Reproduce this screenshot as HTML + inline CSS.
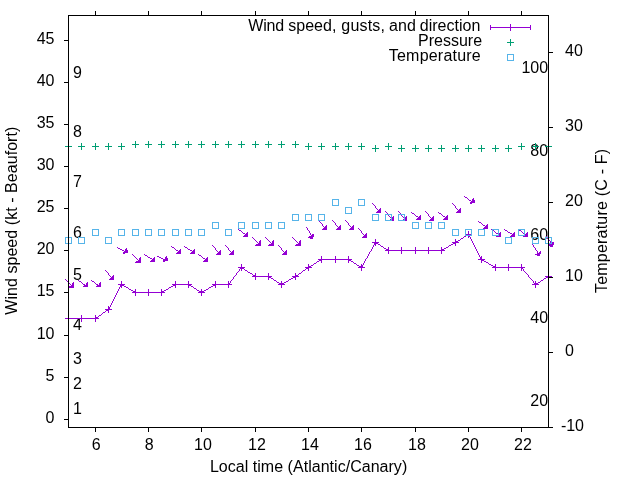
<!DOCTYPE html><html><head><meta charset="utf-8"><title>Wind plot</title><style>html,body{margin:0;padding:0;background:#fff}svg{display:block}text{font-family:"Liberation Sans",sans-serif;font-size:16px;fill:#000}path{shape-rendering:crispEdges}</style></head><body>
<svg width="640" height="480" viewBox="0 0 640 480">
<rect width="640" height="480" fill="#fff"/>
<path d="M95 11h1v1h-1zM148 11h1v1h-1zM201 11h1v1h-1zM255 11h1v1h-1zM308 11h1v1h-1zM361 11h1v1h-1zM415 11h1v1h-1zM468 11h1v1h-1zM521 11h1v1h-1zM95 12h1v1h-1zM148 12h1v1h-1zM201 12h1v1h-1zM255 12h1v1h-1zM308 12h1v1h-1zM361 12h1v1h-1zM415 12h1v1h-1zM468 12h1v1h-1zM521 12h1v1h-1zM95 13h1v1h-1zM148 13h1v1h-1zM201 13h1v1h-1zM255 13h1v1h-1zM308 13h1v1h-1zM361 13h1v1h-1zM415 13h1v1h-1zM468 13h1v1h-1zM521 13h1v1h-1zM95 14h1v1h-1zM148 14h1v1h-1zM201 14h1v1h-1zM255 14h1v1h-1zM308 14h1v1h-1zM361 14h1v1h-1zM415 14h1v1h-1zM468 14h1v1h-1zM521 14h1v1h-1zM95 15h1v1h-1zM148 15h1v1h-1zM201 15h1v1h-1zM255 15h1v1h-1zM308 15h1v1h-1zM361 15h1v1h-1zM415 15h1v1h-1zM468 15h1v1h-1zM521 15h1v1h-1zM64 40h5v1h-5zM548 52h5v1h-5zM64 82h5v1h-5zM64 124h5v1h-5zM548 127h5v1h-5zM64 166h5v1h-5zM548 202h5v1h-5zM64 208h5v1h-5zM64 250h5v1h-5zM548 277h5v1h-5zM64 292h5v1h-5zM64 335h5v1h-5zM548 352h5v1h-5zM64 377h5v1h-5zM64 419h5v1h-5zM95 427h1v1h-1zM148 427h1v1h-1zM201 427h1v1h-1zM255 427h1v1h-1zM308 427h1v1h-1zM361 427h1v1h-1zM415 427h1v1h-1zM468 427h1v1h-1zM521 427h1v1h-1zM548 427h5v1h-5zM95 428h1v1h-1zM148 428h1v1h-1zM201 428h1v1h-1zM255 428h1v1h-1zM308 428h1v1h-1zM361 428h1v1h-1zM415 428h1v1h-1zM468 428h1v1h-1zM521 428h1v1h-1zM95 429h1v1h-1zM148 429h1v1h-1zM201 429h1v1h-1zM255 429h1v1h-1zM308 429h1v1h-1zM361 429h1v1h-1zM415 429h1v1h-1zM468 429h1v1h-1zM521 429h1v1h-1zM95 430h1v1h-1zM148 430h1v1h-1zM201 430h1v1h-1zM255 430h1v1h-1zM308 430h1v1h-1zM361 430h1v1h-1zM415 430h1v1h-1zM468 430h1v1h-1zM521 430h1v1h-1zM95 431h1v1h-1zM148 431h1v1h-1zM201 431h1v1h-1zM255 431h1v1h-1zM308 431h1v1h-1zM361 431h1v1h-1zM415 431h1v1h-1zM468 431h1v1h-1zM521 431h1v1h-1z" fill="#000000"/>
<text x="54.5" y="423.30" text-anchor="end">0</text>
<text x="54.5" y="381.30" text-anchor="end">5</text>
<text x="54.5" y="339.30" text-anchor="end">10</text>
<text x="54.5" y="296.30" text-anchor="end">15</text>
<text x="54.5" y="254.30" text-anchor="end">20</text>
<text x="54.5" y="212.30" text-anchor="end">25</text>
<text x="54.5" y="170.30" text-anchor="end">30</text>
<text x="54.5" y="128.30" text-anchor="end">35</text>
<text x="54.5" y="86.30" text-anchor="end">40</text>
<text x="54.5" y="44.30" text-anchor="end">45</text>
<text x="560.9" y="431.30">-10</text>
<text x="565" y="356.30">0</text>
<text x="565" y="281.30">10</text>
<text x="565" y="206.30">20</text>
<text x="565" y="131.30">30</text>
<text x="565" y="56.30">40</text>
<text x="96.25" y="450" text-anchor="middle">6</text>
<text x="149.25" y="450" text-anchor="middle">8</text>
<text x="202.90" y="450" text-anchor="middle">10</text>
<text x="256.90" y="450" text-anchor="middle">12</text>
<text x="309.90" y="450" text-anchor="middle">14</text>
<text x="362.90" y="450" text-anchor="middle">16</text>
<text x="416.90" y="450" text-anchor="middle">18</text>
<text x="469.90" y="450" text-anchor="middle">20</text>
<text x="522.90" y="450" text-anchor="middle">22</text>
<text x="73" y="414.00">1</text>
<text x="73" y="389.00">2</text>
<text x="73" y="364.00">3</text>
<text x="73" y="330.00">4</text>
<text x="73" y="280.00">5</text>
<text x="73" y="238.00">6</text>
<text x="73" y="187.00">7</text>
<text x="73" y="137.00">8</text>
<text x="73" y="78.00">9</text>
<text x="548.1" y="406.00" text-anchor="end">20</text>
<text x="548.1" y="323.00" text-anchor="end">40</text>
<text x="548.1" y="240.00" text-anchor="end">60</text>
<text x="548.1" y="156.00" text-anchor="end">80</text>
<text x="548.1" y="73.00" text-anchor="end">100</text>
<text transform="translate(16.9 220.7) rotate(-90)" text-anchor="middle" letter-spacing="0.054">Wind speed (kt - Beaufort)</text>
<text transform="translate(606.5 220.85) rotate(-90)" text-anchor="middle" letter-spacing="0.21">Temperature (C - F)</text>
<text x="308.6" y="471.5" text-anchor="middle" letter-spacing="0.03">Local time (Atlantic/Canary)</text>
<text y="30.5"><tspan x="248.3" letter-spacing="-0.2">Wind </tspan><tspan x="288.3">speed, </tspan><tspan x="341.3" letter-spacing="0.2">gusts, </tspan><tspan x="389.1">and </tspan><tspan x="419.8">direction</tspan></text>
<text x="482.05" y="45.5" text-anchor="end">Pressure</text>
<text x="481.0" y="60.5" text-anchor="end" letter-spacing="0.22">Temperature</text>
<path d="M510 24h1v1h-1zM490 25h1v1h-1zM510 25h1v1h-1zM530 25h1v1h-1zM490 26h1v1h-1zM510 26h1v1h-1zM530 26h1v1h-1zM490 27h41v1h-41zM490 28h1v1h-1zM510 28h1v1h-1zM530 28h1v1h-1zM490 29h1v1h-1zM510 29h1v1h-1zM530 29h1v1h-1zM510 30h1v1h-1zM464 196h1v1h-1zM465 197h2v1h-2zM467 198h1v1h-1zM473 198h1v1h-1zM468 199h1v1h-1zM472 199h2v1h-2zM469 200h2v1h-2zM472 200h3v1h-3zM471 201h4v1h-4zM470 202h5v1h-5zM372 203h1v1h-1zM452 203h1v1h-1zM470 203h2v1h-2zM373 204h1v1h-1zM453 204h1v1h-1zM374 205h1v1h-1zM454 205h1v1h-1zM375 206h1v1h-1zM455 206h1v1h-1zM375 207h1v1h-1zM455 207h1v1h-1zM376 208h1v1h-1zM380 208h1v1h-1zM456 208h1v1h-1zM460 208h1v1h-1zM377 209h1v1h-1zM379 209h2v1h-2zM457 209h1v1h-1zM459 209h2v1h-2zM378 210h3v1h-3zM458 210h3v1h-3zM377 211h4v1h-4zM385 211h1v1h-1zM398 211h1v1h-1zM425 211h1v1h-1zM457 211h4v1h-4zM376 212h5v1h-5zM386 212h1v1h-1zM399 212h1v1h-1zM411 212h1v1h-1zM426 212h1v1h-1zM438 212h1v1h-1zM456 212h5v1h-5zM387 213h1v1h-1zM400 213h1v1h-1zM412 213h2v1h-2zM427 213h1v1h-1zM439 213h2v1h-2zM388 214h1v1h-1zM401 214h1v1h-1zM414 214h1v1h-1zM428 214h1v1h-1zM441 214h1v1h-1zM388 215h1v1h-1zM401 215h1v1h-1zM415 215h1v1h-1zM420 215h1v1h-1zM428 215h1v1h-1zM442 215h1v1h-1zM447 215h1v1h-1zM389 216h1v1h-1zM393 216h1v1h-1zM402 216h1v1h-1zM406 216h1v1h-1zM416 216h2v1h-2zM419 216h2v1h-2zM429 216h1v1h-1zM433 216h1v1h-1zM443 216h2v1h-2zM446 216h2v1h-2zM390 217h1v1h-1zM392 217h2v1h-2zM403 217h1v1h-1zM405 217h2v1h-2zM418 217h3v1h-3zM430 217h1v1h-1zM432 217h2v1h-2zM445 217h3v1h-3zM391 218h3v1h-3zM404 218h3v1h-3zM417 218h4v1h-4zM431 218h3v1h-3zM444 218h4v1h-4zM390 219h4v1h-4zM403 219h4v1h-4zM416 219h5v1h-5zM430 219h4v1h-4zM443 219h5v1h-5zM332 220h1v1h-1zM345 220h1v1h-1zM389 220h5v1h-5zM402 220h5v1h-5zM429 220h5v1h-5zM319 221h1v1h-1zM333 221h1v1h-1zM346 221h1v1h-1zM478 221h1v1h-1zM320 222h1v1h-1zM334 222h1v1h-1zM347 222h1v1h-1zM479 222h2v1h-2zM321 223h1v1h-1zM335 223h1v1h-1zM348 223h1v1h-1zM481 223h1v1h-1zM322 224h1v1h-1zM335 224h1v1h-1zM348 224h1v1h-1zM482 224h1v1h-1zM487 224h1v1h-1zM322 225h1v1h-1zM326 225h1v1h-1zM336 225h1v1h-1zM340 225h1v1h-1zM349 225h1v1h-1zM353 225h1v1h-1zM483 225h2v1h-2zM486 225h2v1h-2zM323 226h1v1h-1zM325 226h2v1h-2zM337 226h1v1h-1zM339 226h2v1h-2zM350 226h1v1h-1zM352 226h2v1h-2zM485 226h3v1h-3zM306 227h1v1h-1zM324 227h3v1h-3zM338 227h3v1h-3zM351 227h3v1h-3zM484 227h4v1h-4zM307 228h1v1h-1zM323 228h4v1h-4zM337 228h4v1h-4zM350 228h4v1h-4zM358 228h1v1h-1zM483 228h5v1h-5zM238 229h1v1h-1zM307 229h1v1h-1zM322 229h5v1h-5zM336 229h5v1h-5zM349 229h5v1h-5zM359 229h1v1h-1zM491 229h1v1h-1zM504 229h1v1h-1zM518 229h1v1h-1zM239 230h2v1h-2zM308 230h1v1h-1zM360 230h1v1h-1zM492 230h2v1h-2zM505 230h2v1h-2zM519 230h2v1h-2zM241 231h1v1h-1zM309 231h1v1h-1zM361 231h1v1h-1zM468 231h1v1h-1zM494 231h1v1h-1zM507 231h1v1h-1zM521 231h1v1h-1zM242 232h1v1h-1zM247 232h1v1h-1zM309 232h1v1h-1zM361 232h1v1h-1zM468 232h1v1h-1zM495 232h1v1h-1zM500 232h1v1h-1zM508 232h2v1h-2zM514 232h1v1h-1zM522 232h1v1h-1zM527 232h1v1h-1zM243 233h2v1h-2zM246 233h2v1h-2zM310 233h1v1h-1zM362 233h1v1h-1zM366 233h1v1h-1zM468 233h1v1h-1zM496 233h2v1h-2zM499 233h2v1h-2zM510 233h2v1h-2zM513 233h2v1h-2zM523 233h2v1h-2zM526 233h2v1h-2zM245 234h3v1h-3zM310 234h1v1h-1zM312 234h2v1h-2zM363 234h1v1h-1zM365 234h2v1h-2zM465 234h7v1h-7zM498 234h3v1h-3zM512 234h3v1h-3zM525 234h3v1h-3zM244 235h4v1h-4zM311 235h3v1h-3zM364 235h3v1h-3zM466 235h4v1h-4zM497 235h4v1h-4zM511 235h4v1h-4zM524 235h4v1h-4zM243 236h5v1h-5zM309 236h5v1h-5zM363 236h4v1h-4zM464 236h2v1h-2zM468 236h2v1h-2zM496 236h5v1h-5zM510 236h5v1h-5zM523 236h5v1h-5zM546 236h1v1h-1zM252 237h1v1h-1zM265 237h1v1h-1zM292 237h1v1h-1zM308 237h5v1h-5zM362 237h5v1h-5zM463 237h1v1h-1zM468 237h1v1h-1zM470 237h1v1h-1zM547 237h1v1h-1zM253 238h1v1h-1zM266 238h1v1h-1zM293 238h1v1h-1zM310 238h3v1h-3zM461 238h2v1h-2zM470 238h1v1h-1zM547 238h1v1h-1zM254 239h1v1h-1zM267 239h1v1h-1zM294 239h1v1h-1zM375 239h1v1h-1zM455 239h1v1h-1zM460 239h1v1h-1zM471 239h1v1h-1zM548 239h1v1h-1zM255 240h1v1h-1zM260 240h1v1h-1zM268 240h1v1h-1zM273 240h1v1h-1zM295 240h1v1h-1zM300 240h1v1h-1zM375 240h1v1h-1zM455 240h1v1h-1zM458 240h2v1h-2zM471 240h1v1h-1zM549 240h1v1h-1zM256 241h1v1h-1zM259 241h2v1h-2zM269 241h1v1h-1zM272 241h2v1h-2zM296 241h1v1h-1zM299 241h2v1h-2zM375 241h1v1h-1zM455 241h3v1h-3zM472 241h1v1h-1zM550 241h1v1h-1zM257 242h1v1h-1zM259 242h2v1h-2zM270 242h1v1h-1zM272 242h2v1h-2zM297 242h1v1h-1zM299 242h2v1h-2zM372 242h7v1h-7zM452 242h7v1h-7zM472 242h1v1h-1zM550 242h1v1h-1zM552 242h2v1h-2zM258 243h3v1h-3zM271 243h3v1h-3zM298 243h3v1h-3zM374 243h4v1h-4zM453 243h3v1h-3zM473 243h1v1h-1zM551 243h3v1h-3zM256 244h5v1h-5zM269 244h5v1h-5zM296 244h5v1h-5zM374 244h2v1h-2zM378 244h2v1h-2zM451 244h2v1h-2zM455 244h1v1h-1zM473 244h1v1h-1zM532 244h1v1h-1zM549 244h5v1h-5zM212 245h1v1h-1zM225 245h1v1h-1zM255 245h6v1h-6zM268 245h6v1h-6zM278 245h1v1h-1zM295 245h6v1h-6zM373 245h1v1h-1zM375 245h1v1h-1zM380 245h1v1h-1zM449 245h2v1h-2zM455 245h1v1h-1zM474 245h1v1h-1zM533 245h1v1h-1zM548 245h5v1h-5zM171 246h1v1h-1zM184 246h1v1h-1zM213 246h1v1h-1zM226 246h1v1h-1zM279 246h1v1h-1zM373 246h1v1h-1zM381 246h2v1h-2zM448 246h1v1h-1zM474 246h1v1h-1zM533 246h1v1h-1zM550 246h3v1h-3zM117 247h1v1h-1zM172 247h2v1h-2zM185 247h2v1h-2zM214 247h1v1h-1zM227 247h1v1h-1zM280 247h1v1h-1zM372 247h1v1h-1zM383 247h1v1h-1zM388 247h1v1h-1zM401 247h1v1h-1zM415 247h1v1h-1zM428 247h1v1h-1zM441 247h1v1h-1zM446 247h2v1h-2zM475 247h1v1h-1zM534 247h1v1h-1zM118 248h2v1h-2zM126 248h1v1h-1zM174 248h1v1h-1zM187 248h1v1h-1zM215 248h1v1h-1zM228 248h1v1h-1zM281 248h1v1h-1zM372 248h1v1h-1zM384 248h2v1h-2zM388 248h1v1h-1zM401 248h1v1h-1zM415 248h1v1h-1zM428 248h1v1h-1zM441 248h1v1h-1zM444 248h2v1h-2zM475 248h1v1h-1zM535 248h1v1h-1zM120 249h2v1h-2zM125 249h2v1h-2zM175 249h1v1h-1zM180 249h1v1h-1zM188 249h2v1h-2zM194 249h1v1h-1zM215 249h1v1h-1zM228 249h1v1h-1zM281 249h1v1h-1zM371 249h1v1h-1zM386 249h3v1h-3zM401 249h1v1h-1zM415 249h1v1h-1zM428 249h1v1h-1zM441 249h3v1h-3zM476 249h1v1h-1zM535 249h1v1h-1zM122 250h2v1h-2zM125 250h3v1h-3zM176 250h2v1h-2zM179 250h2v1h-2zM190 250h2v1h-2zM193 250h2v1h-2zM216 250h1v1h-1zM220 250h1v1h-1zM229 250h1v1h-1zM233 250h1v1h-1zM282 250h1v1h-1zM286 250h1v1h-1zM371 250h1v1h-1zM385 250h60v1h-60zM476 250h1v1h-1zM536 250h1v1h-1zM124 251h4v1h-4zM178 251h3v1h-3zM192 251h3v1h-3zM217 251h1v1h-1zM219 251h2v1h-2zM230 251h1v1h-1zM232 251h2v1h-2zM283 251h1v1h-1zM285 251h2v1h-2zM370 251h1v1h-1zM388 251h1v1h-1zM401 251h1v1h-1zM415 251h1v1h-1zM428 251h1v1h-1zM441 251h1v1h-1zM477 251h1v1h-1zM537 251h1v1h-1zM540 251h1v1h-1zM123 252h5v1h-5zM177 252h4v1h-4zM191 252h4v1h-4zM218 252h3v1h-3zM231 252h3v1h-3zM284 252h3v1h-3zM369 252h1v1h-1zM388 252h1v1h-1zM401 252h1v1h-1zM415 252h1v1h-1zM428 252h1v1h-1zM441 252h1v1h-1zM477 252h1v1h-1zM537 252h1v1h-1zM539 252h2v1h-2zM123 253h2v1h-2zM176 253h5v1h-5zM190 253h5v1h-5zM217 253h4v1h-4zM230 253h4v1h-4zM283 253h4v1h-4zM369 253h1v1h-1zM388 253h1v1h-1zM401 253h1v1h-1zM415 253h1v1h-1zM428 253h1v1h-1zM441 253h1v1h-1zM478 253h1v1h-1zM537 253h4v1h-4zM132 254h1v1h-1zM144 254h1v1h-1zM198 254h1v1h-1zM216 254h5v1h-5zM229 254h5v1h-5zM282 254h5v1h-5zM368 254h1v1h-1zM478 254h1v1h-1zM535 254h5v1h-5zM133 255h1v1h-1zM145 255h2v1h-2zM199 255h2v1h-2zM368 255h1v1h-1zM479 255h1v1h-1zM537 255h3v1h-3zM134 256h1v1h-1zM147 256h1v1h-1zM157 256h2v1h-2zM166 256h1v1h-1zM201 256h1v1h-1zM321 256h1v1h-1zM335 256h1v1h-1zM348 256h1v1h-1zM367 256h1v1h-1zM479 256h1v1h-1zM481 256h1v1h-1zM135 257h1v1h-1zM140 257h1v1h-1zM148 257h2v1h-2zM154 257h1v1h-1zM159 257h2v1h-2zM165 257h2v1h-2zM202 257h1v1h-1zM207 257h1v1h-1zM321 257h1v1h-1zM335 257h1v1h-1zM348 257h1v1h-1zM367 257h1v1h-1zM480 257h2v1h-2zM136 258h1v1h-1zM139 258h2v1h-2zM150 258h2v1h-2zM153 258h2v1h-2zM161 258h2v1h-2zM165 258h3v1h-3zM203 258h2v1h-2zM206 258h2v1h-2zM321 258h1v1h-1zM335 258h1v1h-1zM348 258h1v1h-1zM366 258h1v1h-1zM480 258h2v1h-2zM137 259h1v1h-1zM139 259h2v1h-2zM152 259h3v1h-3zM163 259h5v1h-5zM205 259h3v1h-3zM318 259h34v1h-34zM365 259h1v1h-1zM478 259h7v1h-7zM138 260h3v1h-3zM151 260h4v1h-4zM163 260h5v1h-5zM204 260h4v1h-4zM319 260h3v1h-3zM335 260h1v1h-1zM348 260h3v1h-3zM365 260h1v1h-1zM481 260h3v1h-3zM136 261h5v1h-5zM150 261h5v1h-5zM163 261h2v1h-2zM203 261h5v1h-5zM317 261h2v1h-2zM321 261h1v1h-1zM335 261h1v1h-1zM348 261h1v1h-1zM351 261h2v1h-2zM364 261h1v1h-1zM481 261h1v1h-1zM484 261h2v1h-2zM135 262h6v1h-6zM316 262h1v1h-1zM321 262h1v1h-1zM335 262h1v1h-1zM348 262h1v1h-1zM353 262h1v1h-1zM364 262h1v1h-1zM481 262h1v1h-1zM486 262h2v1h-2zM314 263h2v1h-2zM354 263h2v1h-2zM363 263h1v1h-1zM488 263h1v1h-1zM241 264h1v1h-1zM308 264h1v1h-1zM313 264h1v1h-1zM356 264h1v1h-1zM361 264h1v1h-1zM363 264h1v1h-1zM489 264h2v1h-2zM495 264h1v1h-1zM508 264h1v1h-1zM521 264h1v1h-1zM241 265h1v1h-1zM308 265h1v1h-1zM311 265h2v1h-2zM357 265h2v1h-2zM361 265h2v1h-2zM491 265h2v1h-2zM495 265h1v1h-1zM508 265h1v1h-1zM521 265h1v1h-1zM241 266h1v1h-1zM308 266h3v1h-3zM359 266h4v1h-4zM493 266h3v1h-3zM508 266h1v1h-1zM521 266h1v1h-1zM238 267h7v1h-7zM305 267h7v1h-7zM358 267h7v1h-7zM492 267h33v1h-33zM240 268h4v1h-4zM306 268h3v1h-3zM361 268h1v1h-1zM495 268h1v1h-1zM508 268h1v1h-1zM521 268h2v1h-2zM239 269h1v1h-1zM241 269h1v1h-1zM244 269h1v1h-1zM305 269h1v1h-1zM308 269h1v1h-1zM361 269h1v1h-1zM495 269h1v1h-1zM508 269h1v1h-1zM521 269h1v1h-1zM523 269h1v1h-1zM105 270h1v1h-1zM239 270h1v1h-1zM241 270h1v1h-1zM245 270h2v1h-2zM303 270h2v1h-2zM308 270h1v1h-1zM361 270h1v1h-1zM495 270h1v1h-1zM508 270h1v1h-1zM521 270h1v1h-1zM523 270h1v1h-1zM106 271h1v1h-1zM238 271h1v1h-1zM247 271h1v1h-1zM302 271h1v1h-1zM524 271h1v1h-1zM107 272h1v1h-1zM237 272h1v1h-1zM248 272h2v1h-2zM301 272h1v1h-1zM525 272h1v1h-1zM108 273h1v1h-1zM236 273h1v1h-1zM250 273h2v1h-2zM255 273h1v1h-1zM268 273h1v1h-1zM295 273h1v1h-1zM299 273h2v1h-2zM526 273h1v1h-1zM548 273h1v1h-1zM108 274h1v1h-1zM236 274h1v1h-1zM252 274h1v1h-1zM255 274h1v1h-1zM268 274h1v1h-1zM295 274h1v1h-1zM298 274h1v1h-1zM527 274h1v1h-1zM548 274h1v1h-1zM109 275h1v1h-1zM113 275h1v1h-1zM235 275h1v1h-1zM253 275h3v1h-3zM268 275h1v1h-1zM295 275h3v1h-3zM528 275h1v1h-1zM548 275h1v1h-1zM110 276h1v1h-1zM112 276h2v1h-2zM234 276h1v1h-1zM252 276h20v1h-20zM292 276h7v1h-7zM528 276h1v1h-1zM545 276h7v1h-7zM111 277h3v1h-3zM233 277h1v1h-1zM255 277h1v1h-1zM268 277h3v1h-3zM293 277h3v1h-3zM529 277h1v1h-1zM546 277h3v1h-3zM110 278h4v1h-4zM233 278h1v1h-1zM255 278h1v1h-1zM268 278h1v1h-1zM271 278h2v1h-2zM291 278h2v1h-2zM295 278h1v1h-1zM530 278h1v1h-1zM544 278h2v1h-2zM548 278h1v1h-1zM65 279h1v1h-1zM109 279h5v1h-5zM232 279h1v1h-1zM255 279h1v1h-1zM268 279h1v1h-1zM273 279h1v1h-1zM289 279h2v1h-2zM295 279h1v1h-1zM531 279h1v1h-1zM543 279h1v1h-1zM548 279h1v1h-1zM66 280h1v1h-1zM78 280h1v1h-1zM91 280h1v1h-1zM231 280h1v1h-1zM274 280h2v1h-2zM288 280h1v1h-1zM532 280h1v1h-1zM541 280h2v1h-2zM67 281h1v1h-1zM79 281h2v1h-2zM92 281h2v1h-2zM121 281h1v1h-1zM175 281h1v1h-1zM188 281h1v1h-1zM215 281h1v1h-1zM228 281h1v1h-1zM230 281h1v1h-1zM276 281h1v1h-1zM281 281h1v1h-1zM286 281h2v1h-2zM533 281h1v1h-1zM535 281h1v1h-1zM540 281h1v1h-1zM68 282h1v1h-1zM73 282h1v1h-1zM81 282h1v1h-1zM87 282h1v1h-1zM94 282h1v1h-1zM100 282h1v1h-1zM121 282h1v1h-1zM175 282h1v1h-1zM188 282h1v1h-1zM215 282h1v1h-1zM228 282h1v1h-1zM230 282h1v1h-1zM277 282h2v1h-2zM281 282h1v1h-1zM284 282h2v1h-2zM533 282h1v1h-1zM535 282h1v1h-1zM538 282h2v1h-2zM69 283h1v1h-1zM72 283h2v1h-2zM82 283h1v1h-1zM86 283h2v1h-2zM95 283h1v1h-1zM99 283h2v1h-2zM121 283h1v1h-1zM175 283h1v1h-1zM188 283h1v1h-1zM215 283h1v1h-1zM228 283h2v1h-2zM279 283h5v1h-5zM534 283h4v1h-4zM70 284h1v1h-1zM72 284h2v1h-2zM83 284h2v1h-2zM86 284h2v1h-2zM96 284h2v1h-2zM99 284h2v1h-2zM118 284h7v1h-7zM172 284h20v1h-20zM212 284h20v1h-20zM278 284h7v1h-7zM532 284h7v1h-7zM71 285h3v1h-3zM84 285h4v1h-4zM97 285h4v1h-4zM120 285h4v1h-4zM173 285h3v1h-3zM188 285h3v1h-3zM213 285h3v1h-3zM228 285h1v1h-1zM281 285h1v1h-1zM535 285h1v1h-1zM69 286h5v1h-5zM83 286h5v1h-5zM96 286h5v1h-5zM120 286h2v1h-2zM124 286h2v1h-2zM171 286h2v1h-2zM175 286h1v1h-1zM188 286h1v1h-1zM191 286h2v1h-2zM211 286h2v1h-2zM215 286h1v1h-1zM228 286h1v1h-1zM281 286h1v1h-1zM535 286h1v1h-1zM68 287h6v1h-6zM119 287h1v1h-1zM121 287h1v1h-1zM126 287h2v1h-2zM169 287h2v1h-2zM175 287h1v1h-1zM188 287h1v1h-1zM193 287h1v1h-1zM209 287h2v1h-2zM215 287h1v1h-1zM228 287h1v1h-1zM281 287h1v1h-1zM535 287h1v1h-1zM119 288h1v1h-1zM128 288h1v1h-1zM168 288h1v1h-1zM194 288h2v1h-2zM208 288h1v1h-1zM118 289h1v1h-1zM129 289h2v1h-2zM135 289h1v1h-1zM148 289h1v1h-1zM161 289h1v1h-1zM166 289h2v1h-2zM196 289h1v1h-1zM201 289h1v1h-1zM206 289h2v1h-2zM118 290h1v1h-1zM131 290h2v1h-2zM135 290h1v1h-1zM148 290h1v1h-1zM161 290h1v1h-1zM164 290h2v1h-2zM197 290h2v1h-2zM201 290h1v1h-1zM204 290h2v1h-2zM117 291h1v1h-1zM133 291h3v1h-3zM148 291h1v1h-1zM161 291h3v1h-3zM199 291h5v1h-5zM117 292h1v1h-1zM132 292h33v1h-33zM198 292h7v1h-7zM116 293h1v1h-1zM135 293h1v1h-1zM148 293h1v1h-1zM161 293h1v1h-1zM201 293h1v1h-1zM116 294h1v1h-1zM135 294h1v1h-1zM148 294h1v1h-1zM161 294h1v1h-1zM201 294h1v1h-1zM115 295h1v1h-1zM135 295h1v1h-1zM148 295h1v1h-1zM161 295h1v1h-1zM201 295h1v1h-1zM115 296h1v1h-1zM114 297h1v1h-1zM114 298h1v1h-1zM113 299h1v1h-1zM113 300h1v1h-1zM112 301h1v1h-1zM112 302h1v1h-1zM111 303h1v1h-1zM111 304h1v1h-1zM110 305h1v1h-1zM108 306h1v1h-1zM110 306h1v1h-1zM108 307h2v1h-2zM108 308h2v1h-2zM105 309h7v1h-7zM106 310h3v1h-3zM105 311h1v1h-1zM108 311h1v1h-1zM103 312h2v1h-2zM108 312h1v1h-1zM102 313h1v1h-1zM101 314h1v1h-1zM68 315h1v1h-1zM81 315h1v1h-1zM95 315h1v1h-1zM99 315h2v1h-2zM68 316h1v1h-1zM81 316h1v1h-1zM95 316h1v1h-1zM98 316h1v1h-1zM68 317h1v1h-1zM81 317h1v1h-1zM95 317h3v1h-3zM65 318h34v1h-34zM68 319h1v1h-1zM81 319h1v1h-1zM95 319h1v1h-1zM68 320h1v1h-1zM81 320h1v1h-1zM95 320h1v1h-1zM68 321h1v1h-1zM81 321h1v1h-1zM95 321h1v1h-1z" fill="#9400d3"/>
<path d="M510 39h1v1h-1zM510 40h1v1h-1zM510 41h1v1h-1zM507 42h7v1h-7zM510 43h1v1h-1zM510 44h1v1h-1zM510 45h1v1h-1zM135 141h1v1h-1zM148 141h1v1h-1zM161 141h1v1h-1zM175 141h1v1h-1zM188 141h1v1h-1zM201 141h1v1h-1zM215 141h1v1h-1zM228 141h1v1h-1zM241 141h1v1h-1zM255 141h1v1h-1zM268 141h1v1h-1zM281 141h1v1h-1zM295 141h1v1h-1zM135 142h1v1h-1zM148 142h1v1h-1zM161 142h1v1h-1zM175 142h1v1h-1zM188 142h1v1h-1zM201 142h1v1h-1zM215 142h1v1h-1zM228 142h1v1h-1zM241 142h1v1h-1zM255 142h1v1h-1zM268 142h1v1h-1zM281 142h1v1h-1zM295 142h1v1h-1zM68 143h1v1h-1zM81 143h1v1h-1zM95 143h1v1h-1zM108 143h1v1h-1zM121 143h1v1h-1zM135 143h1v1h-1zM148 143h1v1h-1zM161 143h1v1h-1zM175 143h1v1h-1zM188 143h1v1h-1zM201 143h1v1h-1zM215 143h1v1h-1zM228 143h1v1h-1zM241 143h1v1h-1zM255 143h1v1h-1zM268 143h1v1h-1zM281 143h1v1h-1zM295 143h1v1h-1zM308 143h1v1h-1zM321 143h1v1h-1zM335 143h1v1h-1zM348 143h1v1h-1zM361 143h1v1h-1zM388 143h1v1h-1zM521 143h1v1h-1zM535 143h1v1h-1zM548 143h1v1h-1zM68 144h1v1h-1zM81 144h1v1h-1zM95 144h1v1h-1zM108 144h1v1h-1zM121 144h1v1h-1zM132 144h7v1h-7zM145 144h7v1h-7zM158 144h7v1h-7zM172 144h7v1h-7zM185 144h7v1h-7zM198 144h7v1h-7zM212 144h7v1h-7zM225 144h7v1h-7zM238 144h7v1h-7zM252 144h7v1h-7zM265 144h7v1h-7zM278 144h7v1h-7zM292 144h7v1h-7zM308 144h1v1h-1zM321 144h1v1h-1zM335 144h1v1h-1zM348 144h1v1h-1zM361 144h1v1h-1zM388 144h1v1h-1zM521 144h1v1h-1zM535 144h1v1h-1zM548 144h1v1h-1zM68 145h1v1h-1zM81 145h1v1h-1zM95 145h1v1h-1zM108 145h1v1h-1zM121 145h1v1h-1zM135 145h1v1h-1zM148 145h1v1h-1zM161 145h1v1h-1zM175 145h1v1h-1zM188 145h1v1h-1zM201 145h1v1h-1zM215 145h1v1h-1zM228 145h1v1h-1zM241 145h1v1h-1zM255 145h1v1h-1zM268 145h1v1h-1zM281 145h1v1h-1zM295 145h1v1h-1zM308 145h1v1h-1zM321 145h1v1h-1zM335 145h1v1h-1zM348 145h1v1h-1zM361 145h1v1h-1zM375 145h1v1h-1zM388 145h1v1h-1zM401 145h1v1h-1zM415 145h1v1h-1zM428 145h1v1h-1zM441 145h1v1h-1zM455 145h1v1h-1zM468 145h1v1h-1zM481 145h1v1h-1zM495 145h1v1h-1zM508 145h1v1h-1zM521 145h1v1h-1zM535 145h1v1h-1zM548 145h1v1h-1zM65 146h7v1h-7zM78 146h7v1h-7zM92 146h7v1h-7zM105 146h7v1h-7zM118 146h7v1h-7zM135 146h1v1h-1zM148 146h1v1h-1zM161 146h1v1h-1zM175 146h1v1h-1zM188 146h1v1h-1zM201 146h1v1h-1zM215 146h1v1h-1zM228 146h1v1h-1zM241 146h1v1h-1zM255 146h1v1h-1zM268 146h1v1h-1zM281 146h1v1h-1zM295 146h1v1h-1zM305 146h7v1h-7zM318 146h7v1h-7zM332 146h7v1h-7zM345 146h7v1h-7zM358 146h7v1h-7zM375 146h1v1h-1zM385 146h7v1h-7zM401 146h1v1h-1zM415 146h1v1h-1zM428 146h1v1h-1zM441 146h1v1h-1zM455 146h1v1h-1zM468 146h1v1h-1zM481 146h1v1h-1zM495 146h1v1h-1zM508 146h1v1h-1zM518 146h7v1h-7zM532 146h7v1h-7zM545 146h7v1h-7zM68 147h1v1h-1zM81 147h1v1h-1zM95 147h1v1h-1zM108 147h1v1h-1zM121 147h1v1h-1zM135 147h1v1h-1zM148 147h1v1h-1zM161 147h1v1h-1zM175 147h1v1h-1zM188 147h1v1h-1zM201 147h1v1h-1zM215 147h1v1h-1zM228 147h1v1h-1zM241 147h1v1h-1zM255 147h1v1h-1zM268 147h1v1h-1zM281 147h1v1h-1zM295 147h1v1h-1zM308 147h1v1h-1zM321 147h1v1h-1zM335 147h1v1h-1zM348 147h1v1h-1zM361 147h1v1h-1zM375 147h1v1h-1zM388 147h1v1h-1zM401 147h1v1h-1zM415 147h1v1h-1zM428 147h1v1h-1zM441 147h1v1h-1zM455 147h1v1h-1zM468 147h1v1h-1zM481 147h1v1h-1zM495 147h1v1h-1zM508 147h1v1h-1zM521 147h1v1h-1zM535 147h1v1h-1zM548 147h1v1h-1zM68 148h1v1h-1zM81 148h1v1h-1zM95 148h1v1h-1zM108 148h1v1h-1zM121 148h1v1h-1zM308 148h1v1h-1zM321 148h1v1h-1zM335 148h1v1h-1zM348 148h1v1h-1zM361 148h1v1h-1zM372 148h7v1h-7zM388 148h1v1h-1zM398 148h7v1h-7zM412 148h7v1h-7zM425 148h7v1h-7zM438 148h7v1h-7zM452 148h7v1h-7zM465 148h7v1h-7zM478 148h7v1h-7zM492 148h7v1h-7zM505 148h7v1h-7zM521 148h1v1h-1zM535 148h1v1h-1zM548 148h1v1h-1zM68 149h1v1h-1zM81 149h1v1h-1zM95 149h1v1h-1zM108 149h1v1h-1zM121 149h1v1h-1zM308 149h1v1h-1zM321 149h1v1h-1zM335 149h1v1h-1zM348 149h1v1h-1zM361 149h1v1h-1zM375 149h1v1h-1zM388 149h1v1h-1zM401 149h1v1h-1zM415 149h1v1h-1zM428 149h1v1h-1zM441 149h1v1h-1zM455 149h1v1h-1zM468 149h1v1h-1zM481 149h1v1h-1zM495 149h1v1h-1zM508 149h1v1h-1zM521 149h1v1h-1zM535 149h1v1h-1zM548 149h1v1h-1zM375 150h1v1h-1zM401 150h1v1h-1zM415 150h1v1h-1zM428 150h1v1h-1zM441 150h1v1h-1zM455 150h1v1h-1zM468 150h1v1h-1zM481 150h1v1h-1zM495 150h1v1h-1zM508 150h1v1h-1zM375 151h1v1h-1zM401 151h1v1h-1zM415 151h1v1h-1zM428 151h1v1h-1zM441 151h1v1h-1zM455 151h1v1h-1zM468 151h1v1h-1zM481 151h1v1h-1zM495 151h1v1h-1zM508 151h1v1h-1z" fill="#009e73"/>
<path d="M507 54h7v1h-7zM507 55h1v1h-1zM513 55h1v1h-1zM507 56h1v1h-1zM513 56h1v1h-1zM507 57h1v1h-1zM513 57h1v1h-1zM507 58h1v1h-1zM513 58h1v1h-1zM507 59h1v1h-1zM513 59h1v1h-1zM507 60h7v1h-7zM332 199h7v1h-7zM358 199h7v1h-7zM332 200h1v1h-1zM338 200h1v1h-1zM358 200h1v1h-1zM364 200h1v1h-1zM332 201h1v1h-1zM338 201h1v1h-1zM358 201h1v1h-1zM364 201h1v1h-1zM332 202h1v1h-1zM338 202h1v1h-1zM358 202h1v1h-1zM364 202h1v1h-1zM332 203h1v1h-1zM338 203h1v1h-1zM358 203h1v1h-1zM364 203h1v1h-1zM332 204h1v1h-1zM338 204h1v1h-1zM358 204h1v1h-1zM364 204h1v1h-1zM332 205h7v1h-7zM358 205h7v1h-7zM345 207h7v1h-7zM345 208h1v1h-1zM351 208h1v1h-1zM345 209h1v1h-1zM351 209h1v1h-1zM345 210h1v1h-1zM351 210h1v1h-1zM345 211h1v1h-1zM351 211h1v1h-1zM345 212h1v1h-1zM351 212h1v1h-1zM345 213h7v1h-7zM292 214h7v1h-7zM305 214h7v1h-7zM318 214h7v1h-7zM372 214h7v1h-7zM385 214h7v1h-7zM398 214h7v1h-7zM292 215h1v1h-1zM298 215h1v1h-1zM305 215h1v1h-1zM311 215h1v1h-1zM318 215h1v1h-1zM324 215h1v1h-1zM372 215h1v1h-1zM378 215h1v1h-1zM385 215h1v1h-1zM391 215h1v1h-1zM398 215h1v1h-1zM404 215h1v1h-1zM292 216h1v1h-1zM298 216h1v1h-1zM305 216h1v1h-1zM311 216h1v1h-1zM318 216h1v1h-1zM324 216h1v1h-1zM372 216h1v1h-1zM378 216h1v1h-1zM385 216h1v1h-1zM391 216h1v1h-1zM398 216h1v1h-1zM404 216h1v1h-1zM292 217h1v1h-1zM298 217h1v1h-1zM305 217h1v1h-1zM311 217h1v1h-1zM318 217h1v1h-1zM324 217h1v1h-1zM372 217h1v1h-1zM378 217h1v1h-1zM385 217h1v1h-1zM391 217h1v1h-1zM398 217h1v1h-1zM404 217h1v1h-1zM292 218h1v1h-1zM298 218h1v1h-1zM305 218h1v1h-1zM311 218h1v1h-1zM318 218h1v1h-1zM324 218h1v1h-1zM372 218h1v1h-1zM378 218h1v1h-1zM385 218h1v1h-1zM391 218h1v1h-1zM398 218h1v1h-1zM404 218h1v1h-1zM292 219h1v1h-1zM298 219h1v1h-1zM305 219h1v1h-1zM311 219h1v1h-1zM318 219h1v1h-1zM324 219h1v1h-1zM372 219h1v1h-1zM378 219h1v1h-1zM385 219h1v1h-1zM391 219h1v1h-1zM398 219h1v1h-1zM404 219h1v1h-1zM292 220h7v1h-7zM305 220h7v1h-7zM318 220h7v1h-7zM372 220h7v1h-7zM385 220h7v1h-7zM398 220h7v1h-7zM212 222h7v1h-7zM238 222h7v1h-7zM252 222h7v1h-7zM265 222h7v1h-7zM278 222h7v1h-7zM412 222h7v1h-7zM425 222h7v1h-7zM438 222h7v1h-7zM212 223h1v1h-1zM218 223h1v1h-1zM238 223h1v1h-1zM244 223h1v1h-1zM252 223h1v1h-1zM258 223h1v1h-1zM265 223h1v1h-1zM271 223h1v1h-1zM278 223h1v1h-1zM284 223h1v1h-1zM412 223h1v1h-1zM418 223h1v1h-1zM425 223h1v1h-1zM431 223h1v1h-1zM438 223h1v1h-1zM444 223h1v1h-1zM212 224h1v1h-1zM218 224h1v1h-1zM238 224h1v1h-1zM244 224h1v1h-1zM252 224h1v1h-1zM258 224h1v1h-1zM265 224h1v1h-1zM271 224h1v1h-1zM278 224h1v1h-1zM284 224h1v1h-1zM412 224h1v1h-1zM418 224h1v1h-1zM425 224h1v1h-1zM431 224h1v1h-1zM438 224h1v1h-1zM444 224h1v1h-1zM212 225h1v1h-1zM218 225h1v1h-1zM238 225h1v1h-1zM244 225h1v1h-1zM252 225h1v1h-1zM258 225h1v1h-1zM265 225h1v1h-1zM271 225h1v1h-1zM278 225h1v1h-1zM284 225h1v1h-1zM412 225h1v1h-1zM418 225h1v1h-1zM425 225h1v1h-1zM431 225h1v1h-1zM438 225h1v1h-1zM444 225h1v1h-1zM212 226h1v1h-1zM218 226h1v1h-1zM238 226h1v1h-1zM244 226h1v1h-1zM252 226h1v1h-1zM258 226h1v1h-1zM265 226h1v1h-1zM271 226h1v1h-1zM278 226h1v1h-1zM284 226h1v1h-1zM412 226h1v1h-1zM418 226h1v1h-1zM425 226h1v1h-1zM431 226h1v1h-1zM438 226h1v1h-1zM444 226h1v1h-1zM212 227h1v1h-1zM218 227h1v1h-1zM238 227h1v1h-1zM244 227h1v1h-1zM252 227h1v1h-1zM258 227h1v1h-1zM265 227h1v1h-1zM271 227h1v1h-1zM278 227h1v1h-1zM284 227h1v1h-1zM412 227h1v1h-1zM418 227h1v1h-1zM425 227h1v1h-1zM431 227h1v1h-1zM438 227h1v1h-1zM444 227h1v1h-1zM212 228h7v1h-7zM238 228h7v1h-7zM252 228h7v1h-7zM265 228h7v1h-7zM278 228h7v1h-7zM412 228h7v1h-7zM425 228h7v1h-7zM438 228h7v1h-7zM92 229h7v1h-7zM118 229h7v1h-7zM132 229h7v1h-7zM145 229h7v1h-7zM158 229h7v1h-7zM172 229h7v1h-7zM185 229h7v1h-7zM198 229h7v1h-7zM225 229h7v1h-7zM452 229h7v1h-7zM465 229h7v1h-7zM478 229h7v1h-7zM492 229h7v1h-7zM518 229h7v1h-7zM92 230h1v1h-1zM98 230h1v1h-1zM118 230h1v1h-1zM124 230h1v1h-1zM132 230h1v1h-1zM138 230h1v1h-1zM145 230h1v1h-1zM151 230h1v1h-1zM158 230h1v1h-1zM164 230h1v1h-1zM172 230h1v1h-1zM178 230h1v1h-1zM185 230h1v1h-1zM191 230h1v1h-1zM198 230h1v1h-1zM204 230h1v1h-1zM225 230h1v1h-1zM231 230h1v1h-1zM452 230h1v1h-1zM458 230h1v1h-1zM465 230h1v1h-1zM471 230h1v1h-1zM478 230h1v1h-1zM484 230h1v1h-1zM492 230h1v1h-1zM498 230h1v1h-1zM518 230h1v1h-1zM524 230h1v1h-1zM92 231h1v1h-1zM98 231h1v1h-1zM118 231h1v1h-1zM124 231h1v1h-1zM132 231h1v1h-1zM138 231h1v1h-1zM145 231h1v1h-1zM151 231h1v1h-1zM158 231h1v1h-1zM164 231h1v1h-1zM172 231h1v1h-1zM178 231h1v1h-1zM185 231h1v1h-1zM191 231h1v1h-1zM198 231h1v1h-1zM204 231h1v1h-1zM225 231h1v1h-1zM231 231h1v1h-1zM452 231h1v1h-1zM458 231h1v1h-1zM465 231h1v1h-1zM471 231h1v1h-1zM478 231h1v1h-1zM484 231h1v1h-1zM492 231h1v1h-1zM498 231h1v1h-1zM518 231h1v1h-1zM524 231h1v1h-1zM92 232h1v1h-1zM98 232h1v1h-1zM118 232h1v1h-1zM124 232h1v1h-1zM132 232h1v1h-1zM138 232h1v1h-1zM145 232h1v1h-1zM151 232h1v1h-1zM158 232h1v1h-1zM164 232h1v1h-1zM172 232h1v1h-1zM178 232h1v1h-1zM185 232h1v1h-1zM191 232h1v1h-1zM198 232h1v1h-1zM204 232h1v1h-1zM225 232h1v1h-1zM231 232h1v1h-1zM452 232h1v1h-1zM458 232h1v1h-1zM465 232h1v1h-1zM471 232h1v1h-1zM478 232h1v1h-1zM484 232h1v1h-1zM492 232h1v1h-1zM498 232h1v1h-1zM518 232h1v1h-1zM524 232h1v1h-1zM92 233h1v1h-1zM98 233h1v1h-1zM118 233h1v1h-1zM124 233h1v1h-1zM132 233h1v1h-1zM138 233h1v1h-1zM145 233h1v1h-1zM151 233h1v1h-1zM158 233h1v1h-1zM164 233h1v1h-1zM172 233h1v1h-1zM178 233h1v1h-1zM185 233h1v1h-1zM191 233h1v1h-1zM198 233h1v1h-1zM204 233h1v1h-1zM225 233h1v1h-1zM231 233h1v1h-1zM452 233h1v1h-1zM458 233h1v1h-1zM465 233h1v1h-1zM471 233h1v1h-1zM478 233h1v1h-1zM484 233h1v1h-1zM492 233h1v1h-1zM498 233h1v1h-1zM518 233h1v1h-1zM524 233h1v1h-1zM92 234h1v1h-1zM98 234h1v1h-1zM118 234h1v1h-1zM124 234h1v1h-1zM132 234h1v1h-1zM138 234h1v1h-1zM145 234h1v1h-1zM151 234h1v1h-1zM158 234h1v1h-1zM164 234h1v1h-1zM172 234h1v1h-1zM178 234h1v1h-1zM185 234h1v1h-1zM191 234h1v1h-1zM198 234h1v1h-1zM204 234h1v1h-1zM225 234h1v1h-1zM231 234h1v1h-1zM452 234h1v1h-1zM458 234h1v1h-1zM465 234h1v1h-1zM471 234h1v1h-1zM478 234h1v1h-1zM484 234h1v1h-1zM492 234h1v1h-1zM498 234h1v1h-1zM518 234h1v1h-1zM524 234h1v1h-1zM92 235h7v1h-7zM118 235h7v1h-7zM132 235h7v1h-7zM145 235h7v1h-7zM158 235h7v1h-7zM172 235h7v1h-7zM185 235h7v1h-7zM198 235h7v1h-7zM225 235h7v1h-7zM452 235h7v1h-7zM465 235h7v1h-7zM478 235h7v1h-7zM492 235h7v1h-7zM518 235h7v1h-7zM65 237h7v1h-7zM78 237h7v1h-7zM105 237h7v1h-7zM505 237h7v1h-7zM532 237h7v1h-7zM545 237h7v1h-7zM65 238h1v1h-1zM71 238h1v1h-1zM78 238h1v1h-1zM84 238h1v1h-1zM105 238h1v1h-1zM111 238h1v1h-1zM505 238h1v1h-1zM511 238h1v1h-1zM532 238h1v1h-1zM538 238h1v1h-1zM545 238h1v1h-1zM551 238h1v1h-1zM65 239h1v1h-1zM71 239h1v1h-1zM78 239h1v1h-1zM84 239h1v1h-1zM105 239h1v1h-1zM111 239h1v1h-1zM505 239h1v1h-1zM511 239h1v1h-1zM532 239h1v1h-1zM538 239h1v1h-1zM545 239h1v1h-1zM551 239h1v1h-1zM65 240h1v1h-1zM71 240h1v1h-1zM78 240h1v1h-1zM84 240h1v1h-1zM105 240h1v1h-1zM111 240h1v1h-1zM505 240h1v1h-1zM511 240h1v1h-1zM532 240h1v1h-1zM538 240h1v1h-1zM545 240h1v1h-1zM551 240h1v1h-1zM65 241h1v1h-1zM71 241h1v1h-1zM78 241h1v1h-1zM84 241h1v1h-1zM105 241h1v1h-1zM111 241h1v1h-1zM505 241h1v1h-1zM511 241h1v1h-1zM532 241h1v1h-1zM538 241h1v1h-1zM545 241h1v1h-1zM551 241h1v1h-1zM65 242h1v1h-1zM71 242h1v1h-1zM78 242h1v1h-1zM84 242h1v1h-1zM105 242h1v1h-1zM111 242h1v1h-1zM505 242h1v1h-1zM511 242h1v1h-1zM532 242h1v1h-1zM538 242h1v1h-1zM545 242h1v1h-1zM551 242h1v1h-1zM65 243h7v1h-7zM78 243h7v1h-7zM105 243h7v1h-7zM505 243h7v1h-7zM532 243h7v1h-7zM545 243h7v1h-7z" fill="#56b4e9"/>
<path d="M68 15h481v1h-481zM68 16h1v1h-1zM548 16h1v1h-1zM68 17h1v1h-1zM548 17h1v1h-1zM68 18h1v1h-1zM548 18h1v1h-1zM68 19h1v1h-1zM548 19h1v1h-1zM68 20h1v1h-1zM548 20h1v1h-1zM68 21h1v1h-1zM548 21h1v1h-1zM68 22h1v1h-1zM548 22h1v1h-1zM68 23h1v1h-1zM548 23h1v1h-1zM68 24h1v1h-1zM548 24h1v1h-1zM68 25h1v1h-1zM548 25h1v1h-1zM68 26h1v1h-1zM548 26h1v1h-1zM68 27h1v1h-1zM548 27h1v1h-1zM68 28h1v1h-1zM548 28h1v1h-1zM68 29h1v1h-1zM548 29h1v1h-1zM68 30h1v1h-1zM548 30h1v1h-1zM68 31h1v1h-1zM548 31h1v1h-1zM68 32h1v1h-1zM548 32h1v1h-1zM68 33h1v1h-1zM548 33h1v1h-1zM68 34h1v1h-1zM548 34h1v1h-1zM68 35h1v1h-1zM548 35h1v1h-1zM68 36h1v1h-1zM548 36h1v1h-1zM68 37h1v1h-1zM548 37h1v1h-1zM68 38h1v1h-1zM548 38h1v1h-1zM68 39h1v1h-1zM548 39h1v1h-1zM68 40h1v1h-1zM548 40h1v1h-1zM68 41h1v1h-1zM548 41h1v1h-1zM68 42h1v1h-1zM548 42h1v1h-1zM68 43h1v1h-1zM548 43h1v1h-1zM68 44h1v1h-1zM548 44h1v1h-1zM68 45h1v1h-1zM548 45h1v1h-1zM68 46h1v1h-1zM548 46h1v1h-1zM68 47h1v1h-1zM548 47h1v1h-1zM68 48h1v1h-1zM548 48h1v1h-1zM68 49h1v1h-1zM548 49h1v1h-1zM68 50h1v1h-1zM548 50h1v1h-1zM68 51h1v1h-1zM548 51h1v1h-1zM68 52h1v1h-1zM548 52h1v1h-1zM68 53h1v1h-1zM548 53h1v1h-1zM68 54h1v1h-1zM548 54h1v1h-1zM68 55h1v1h-1zM548 55h1v1h-1zM68 56h1v1h-1zM548 56h1v1h-1zM68 57h1v1h-1zM548 57h1v1h-1zM68 58h1v1h-1zM548 58h1v1h-1zM68 59h1v1h-1zM548 59h1v1h-1zM68 60h1v1h-1zM548 60h1v1h-1zM68 61h1v1h-1zM548 61h1v1h-1zM68 62h1v1h-1zM548 62h1v1h-1zM68 63h1v1h-1zM548 63h1v1h-1zM68 64h1v1h-1zM548 64h1v1h-1zM68 65h1v1h-1zM548 65h1v1h-1zM68 66h1v1h-1zM548 66h1v1h-1zM68 67h1v1h-1zM548 67h1v1h-1zM68 68h1v1h-1zM548 68h1v1h-1zM68 69h1v1h-1zM548 69h1v1h-1zM68 70h1v1h-1zM548 70h1v1h-1zM68 71h1v1h-1zM548 71h1v1h-1zM68 72h1v1h-1zM548 72h1v1h-1zM68 73h1v1h-1zM548 73h1v1h-1zM68 74h1v1h-1zM548 74h1v1h-1zM68 75h1v1h-1zM548 75h1v1h-1zM68 76h1v1h-1zM548 76h1v1h-1zM68 77h1v1h-1zM548 77h1v1h-1zM68 78h1v1h-1zM548 78h1v1h-1zM68 79h1v1h-1zM548 79h1v1h-1zM68 80h1v1h-1zM548 80h1v1h-1zM68 81h1v1h-1zM548 81h1v1h-1zM68 82h1v1h-1zM548 82h1v1h-1zM68 83h1v1h-1zM548 83h1v1h-1zM68 84h1v1h-1zM548 84h1v1h-1zM68 85h1v1h-1zM548 85h1v1h-1zM68 86h1v1h-1zM548 86h1v1h-1zM68 87h1v1h-1zM548 87h1v1h-1zM68 88h1v1h-1zM548 88h1v1h-1zM68 89h1v1h-1zM548 89h1v1h-1zM68 90h1v1h-1zM548 90h1v1h-1zM68 91h1v1h-1zM548 91h1v1h-1zM68 92h1v1h-1zM548 92h1v1h-1zM68 93h1v1h-1zM548 93h1v1h-1zM68 94h1v1h-1zM548 94h1v1h-1zM68 95h1v1h-1zM548 95h1v1h-1zM68 96h1v1h-1zM548 96h1v1h-1zM68 97h1v1h-1zM548 97h1v1h-1zM68 98h1v1h-1zM548 98h1v1h-1zM68 99h1v1h-1zM548 99h1v1h-1zM68 100h1v1h-1zM548 100h1v1h-1zM68 101h1v1h-1zM548 101h1v1h-1zM68 102h1v1h-1zM548 102h1v1h-1zM68 103h1v1h-1zM548 103h1v1h-1zM68 104h1v1h-1zM548 104h1v1h-1zM68 105h1v1h-1zM548 105h1v1h-1zM68 106h1v1h-1zM548 106h1v1h-1zM68 107h1v1h-1zM548 107h1v1h-1zM68 108h1v1h-1zM548 108h1v1h-1zM68 109h1v1h-1zM548 109h1v1h-1zM68 110h1v1h-1zM548 110h1v1h-1zM68 111h1v1h-1zM548 111h1v1h-1zM68 112h1v1h-1zM548 112h1v1h-1zM68 113h1v1h-1zM548 113h1v1h-1zM68 114h1v1h-1zM548 114h1v1h-1zM68 115h1v1h-1zM548 115h1v1h-1zM68 116h1v1h-1zM548 116h1v1h-1zM68 117h1v1h-1zM548 117h1v1h-1zM68 118h1v1h-1zM548 118h1v1h-1zM68 119h1v1h-1zM548 119h1v1h-1zM68 120h1v1h-1zM548 120h1v1h-1zM68 121h1v1h-1zM548 121h1v1h-1zM68 122h1v1h-1zM548 122h1v1h-1zM68 123h1v1h-1zM548 123h1v1h-1zM68 124h1v1h-1zM548 124h1v1h-1zM68 125h1v1h-1zM548 125h1v1h-1zM68 126h1v1h-1zM548 126h1v1h-1zM68 127h1v1h-1zM548 127h1v1h-1zM68 128h1v1h-1zM548 128h1v1h-1zM68 129h1v1h-1zM548 129h1v1h-1zM68 130h1v1h-1zM548 130h1v1h-1zM68 131h1v1h-1zM548 131h1v1h-1zM68 132h1v1h-1zM548 132h1v1h-1zM68 133h1v1h-1zM548 133h1v1h-1zM68 134h1v1h-1zM548 134h1v1h-1zM68 135h1v1h-1zM548 135h1v1h-1zM68 136h1v1h-1zM548 136h1v1h-1zM68 137h1v1h-1zM548 137h1v1h-1zM68 138h1v1h-1zM548 138h1v1h-1zM68 139h1v1h-1zM548 139h1v1h-1zM68 140h1v1h-1zM548 140h1v1h-1zM68 141h1v1h-1zM548 141h1v1h-1zM68 142h1v1h-1zM548 142h1v1h-1zM68 143h1v1h-1zM548 143h1v1h-1zM68 144h1v1h-1zM548 144h1v1h-1zM68 145h1v1h-1zM548 145h1v1h-1zM68 146h1v1h-1zM548 146h1v1h-1zM68 147h1v1h-1zM548 147h1v1h-1zM68 148h1v1h-1zM548 148h1v1h-1zM68 149h1v1h-1zM548 149h1v1h-1zM68 150h1v1h-1zM548 150h1v1h-1zM68 151h1v1h-1zM548 151h1v1h-1zM68 152h1v1h-1zM548 152h1v1h-1zM68 153h1v1h-1zM548 153h1v1h-1zM68 154h1v1h-1zM548 154h1v1h-1zM68 155h1v1h-1zM548 155h1v1h-1zM68 156h1v1h-1zM548 156h1v1h-1zM68 157h1v1h-1zM548 157h1v1h-1zM68 158h1v1h-1zM548 158h1v1h-1zM68 159h1v1h-1zM548 159h1v1h-1zM68 160h1v1h-1zM548 160h1v1h-1zM68 161h1v1h-1zM548 161h1v1h-1zM68 162h1v1h-1zM548 162h1v1h-1zM68 163h1v1h-1zM548 163h1v1h-1zM68 164h1v1h-1zM548 164h1v1h-1zM68 165h1v1h-1zM548 165h1v1h-1zM68 166h1v1h-1zM548 166h1v1h-1zM68 167h1v1h-1zM548 167h1v1h-1zM68 168h1v1h-1zM548 168h1v1h-1zM68 169h1v1h-1zM548 169h1v1h-1zM68 170h1v1h-1zM548 170h1v1h-1zM68 171h1v1h-1zM548 171h1v1h-1zM68 172h1v1h-1zM548 172h1v1h-1zM68 173h1v1h-1zM548 173h1v1h-1zM68 174h1v1h-1zM548 174h1v1h-1zM68 175h1v1h-1zM548 175h1v1h-1zM68 176h1v1h-1zM548 176h1v1h-1zM68 177h1v1h-1zM548 177h1v1h-1zM68 178h1v1h-1zM548 178h1v1h-1zM68 179h1v1h-1zM548 179h1v1h-1zM68 180h1v1h-1zM548 180h1v1h-1zM68 181h1v1h-1zM548 181h1v1h-1zM68 182h1v1h-1zM548 182h1v1h-1zM68 183h1v1h-1zM548 183h1v1h-1zM68 184h1v1h-1zM548 184h1v1h-1zM68 185h1v1h-1zM548 185h1v1h-1zM68 186h1v1h-1zM548 186h1v1h-1zM68 187h1v1h-1zM548 187h1v1h-1zM68 188h1v1h-1zM548 188h1v1h-1zM68 189h1v1h-1zM548 189h1v1h-1zM68 190h1v1h-1zM548 190h1v1h-1zM68 191h1v1h-1zM548 191h1v1h-1zM68 192h1v1h-1zM548 192h1v1h-1zM68 193h1v1h-1zM548 193h1v1h-1zM68 194h1v1h-1zM548 194h1v1h-1zM68 195h1v1h-1zM548 195h1v1h-1zM68 196h1v1h-1zM548 196h1v1h-1zM68 197h1v1h-1zM548 197h1v1h-1zM68 198h1v1h-1zM548 198h1v1h-1zM68 199h1v1h-1zM548 199h1v1h-1zM68 200h1v1h-1zM548 200h1v1h-1zM68 201h1v1h-1zM548 201h1v1h-1zM68 202h1v1h-1zM548 202h1v1h-1zM68 203h1v1h-1zM548 203h1v1h-1zM68 204h1v1h-1zM548 204h1v1h-1zM68 205h1v1h-1zM548 205h1v1h-1zM68 206h1v1h-1zM548 206h1v1h-1zM68 207h1v1h-1zM548 207h1v1h-1zM68 208h1v1h-1zM548 208h1v1h-1zM68 209h1v1h-1zM548 209h1v1h-1zM68 210h1v1h-1zM548 210h1v1h-1zM68 211h1v1h-1zM548 211h1v1h-1zM68 212h1v1h-1zM548 212h1v1h-1zM68 213h1v1h-1zM548 213h1v1h-1zM68 214h1v1h-1zM548 214h1v1h-1zM68 215h1v1h-1zM548 215h1v1h-1zM68 216h1v1h-1zM548 216h1v1h-1zM68 217h1v1h-1zM548 217h1v1h-1zM68 218h1v1h-1zM548 218h1v1h-1zM68 219h1v1h-1zM548 219h1v1h-1zM68 220h1v1h-1zM548 220h1v1h-1zM68 221h1v1h-1zM548 221h1v1h-1zM68 222h1v1h-1zM548 222h1v1h-1zM68 223h1v1h-1zM548 223h1v1h-1zM68 224h1v1h-1zM548 224h1v1h-1zM68 225h1v1h-1zM548 225h1v1h-1zM68 226h1v1h-1zM548 226h1v1h-1zM68 227h1v1h-1zM548 227h1v1h-1zM68 228h1v1h-1zM548 228h1v1h-1zM68 229h1v1h-1zM548 229h1v1h-1zM68 230h1v1h-1zM548 230h1v1h-1zM68 231h1v1h-1zM548 231h1v1h-1zM68 232h1v1h-1zM548 232h1v1h-1zM68 233h1v1h-1zM548 233h1v1h-1zM68 234h1v1h-1zM548 234h1v1h-1zM68 235h1v1h-1zM548 235h1v1h-1zM68 236h1v1h-1zM548 236h1v1h-1zM68 237h1v1h-1zM548 237h1v1h-1zM68 238h1v1h-1zM548 238h1v1h-1zM68 239h1v1h-1zM548 239h1v1h-1zM68 240h1v1h-1zM548 240h1v1h-1zM68 241h1v1h-1zM548 241h1v1h-1zM68 242h1v1h-1zM548 242h1v1h-1zM68 243h1v1h-1zM548 243h1v1h-1zM68 244h1v1h-1zM548 244h1v1h-1zM68 245h1v1h-1zM548 245h1v1h-1zM68 246h1v1h-1zM548 246h1v1h-1zM68 247h1v1h-1zM548 247h1v1h-1zM68 248h1v1h-1zM548 248h1v1h-1zM68 249h1v1h-1zM548 249h1v1h-1zM68 250h1v1h-1zM548 250h1v1h-1zM68 251h1v1h-1zM548 251h1v1h-1zM68 252h1v1h-1zM548 252h1v1h-1zM68 253h1v1h-1zM548 253h1v1h-1zM68 254h1v1h-1zM548 254h1v1h-1zM68 255h1v1h-1zM548 255h1v1h-1zM68 256h1v1h-1zM548 256h1v1h-1zM68 257h1v1h-1zM548 257h1v1h-1zM68 258h1v1h-1zM548 258h1v1h-1zM68 259h1v1h-1zM548 259h1v1h-1zM68 260h1v1h-1zM548 260h1v1h-1zM68 261h1v1h-1zM548 261h1v1h-1zM68 262h1v1h-1zM548 262h1v1h-1zM68 263h1v1h-1zM548 263h1v1h-1zM68 264h1v1h-1zM548 264h1v1h-1zM68 265h1v1h-1zM548 265h1v1h-1zM68 266h1v1h-1zM548 266h1v1h-1zM68 267h1v1h-1zM548 267h1v1h-1zM68 268h1v1h-1zM548 268h1v1h-1zM68 269h1v1h-1zM548 269h1v1h-1zM68 270h1v1h-1zM548 270h1v1h-1zM68 271h1v1h-1zM548 271h1v1h-1zM68 272h1v1h-1zM548 272h1v1h-1zM68 273h1v1h-1zM548 273h1v1h-1zM68 274h1v1h-1zM548 274h1v1h-1zM68 275h1v1h-1zM548 275h1v1h-1zM68 276h1v1h-1zM548 276h1v1h-1zM68 277h1v1h-1zM548 277h1v1h-1zM68 278h1v1h-1zM548 278h1v1h-1zM68 279h1v1h-1zM548 279h1v1h-1zM68 280h1v1h-1zM548 280h1v1h-1zM68 281h1v1h-1zM548 281h1v1h-1zM68 282h1v1h-1zM548 282h1v1h-1zM68 283h1v1h-1zM548 283h1v1h-1zM68 284h1v1h-1zM548 284h1v1h-1zM68 285h1v1h-1zM548 285h1v1h-1zM68 286h1v1h-1zM548 286h1v1h-1zM68 287h1v1h-1zM548 287h1v1h-1zM68 288h1v1h-1zM548 288h1v1h-1zM68 289h1v1h-1zM548 289h1v1h-1zM68 290h1v1h-1zM548 290h1v1h-1zM68 291h1v1h-1zM548 291h1v1h-1zM68 292h1v1h-1zM548 292h1v1h-1zM68 293h1v1h-1zM548 293h1v1h-1zM68 294h1v1h-1zM548 294h1v1h-1zM68 295h1v1h-1zM548 295h1v1h-1zM68 296h1v1h-1zM548 296h1v1h-1zM68 297h1v1h-1zM548 297h1v1h-1zM68 298h1v1h-1zM548 298h1v1h-1zM68 299h1v1h-1zM548 299h1v1h-1zM68 300h1v1h-1zM548 300h1v1h-1zM68 301h1v1h-1zM548 301h1v1h-1zM68 302h1v1h-1zM548 302h1v1h-1zM68 303h1v1h-1zM548 303h1v1h-1zM68 304h1v1h-1zM548 304h1v1h-1zM68 305h1v1h-1zM548 305h1v1h-1zM68 306h1v1h-1zM548 306h1v1h-1zM68 307h1v1h-1zM548 307h1v1h-1zM68 308h1v1h-1zM548 308h1v1h-1zM68 309h1v1h-1zM548 309h1v1h-1zM68 310h1v1h-1zM548 310h1v1h-1zM68 311h1v1h-1zM548 311h1v1h-1zM68 312h1v1h-1zM548 312h1v1h-1zM68 313h1v1h-1zM548 313h1v1h-1zM68 314h1v1h-1zM548 314h1v1h-1zM68 315h1v1h-1zM548 315h1v1h-1zM68 316h1v1h-1zM548 316h1v1h-1zM68 317h1v1h-1zM548 317h1v1h-1zM68 318h1v1h-1zM548 318h1v1h-1zM68 319h1v1h-1zM548 319h1v1h-1zM68 320h1v1h-1zM548 320h1v1h-1zM68 321h1v1h-1zM548 321h1v1h-1zM68 322h1v1h-1zM548 322h1v1h-1zM68 323h1v1h-1zM548 323h1v1h-1zM68 324h1v1h-1zM548 324h1v1h-1zM68 325h1v1h-1zM548 325h1v1h-1zM68 326h1v1h-1zM548 326h1v1h-1zM68 327h1v1h-1zM548 327h1v1h-1zM68 328h1v1h-1zM548 328h1v1h-1zM68 329h1v1h-1zM548 329h1v1h-1zM68 330h1v1h-1zM548 330h1v1h-1zM68 331h1v1h-1zM548 331h1v1h-1zM68 332h1v1h-1zM548 332h1v1h-1zM68 333h1v1h-1zM548 333h1v1h-1zM68 334h1v1h-1zM548 334h1v1h-1zM68 335h1v1h-1zM548 335h1v1h-1zM68 336h1v1h-1zM548 336h1v1h-1zM68 337h1v1h-1zM548 337h1v1h-1zM68 338h1v1h-1zM548 338h1v1h-1zM68 339h1v1h-1zM548 339h1v1h-1zM68 340h1v1h-1zM548 340h1v1h-1zM68 341h1v1h-1zM548 341h1v1h-1zM68 342h1v1h-1zM548 342h1v1h-1zM68 343h1v1h-1zM548 343h1v1h-1zM68 344h1v1h-1zM548 344h1v1h-1zM68 345h1v1h-1zM548 345h1v1h-1zM68 346h1v1h-1zM548 346h1v1h-1zM68 347h1v1h-1zM548 347h1v1h-1zM68 348h1v1h-1zM548 348h1v1h-1zM68 349h1v1h-1zM548 349h1v1h-1zM68 350h1v1h-1zM548 350h1v1h-1zM68 351h1v1h-1zM548 351h1v1h-1zM68 352h1v1h-1zM548 352h1v1h-1zM68 353h1v1h-1zM548 353h1v1h-1zM68 354h1v1h-1zM548 354h1v1h-1zM68 355h1v1h-1zM548 355h1v1h-1zM68 356h1v1h-1zM548 356h1v1h-1zM68 357h1v1h-1zM548 357h1v1h-1zM68 358h1v1h-1zM548 358h1v1h-1zM68 359h1v1h-1zM548 359h1v1h-1zM68 360h1v1h-1zM548 360h1v1h-1zM68 361h1v1h-1zM548 361h1v1h-1zM68 362h1v1h-1zM548 362h1v1h-1zM68 363h1v1h-1zM548 363h1v1h-1zM68 364h1v1h-1zM548 364h1v1h-1zM68 365h1v1h-1zM548 365h1v1h-1zM68 366h1v1h-1zM548 366h1v1h-1zM68 367h1v1h-1zM548 367h1v1h-1zM68 368h1v1h-1zM548 368h1v1h-1zM68 369h1v1h-1zM548 369h1v1h-1zM68 370h1v1h-1zM548 370h1v1h-1zM68 371h1v1h-1zM548 371h1v1h-1zM68 372h1v1h-1zM548 372h1v1h-1zM68 373h1v1h-1zM548 373h1v1h-1zM68 374h1v1h-1zM548 374h1v1h-1zM68 375h1v1h-1zM548 375h1v1h-1zM68 376h1v1h-1zM548 376h1v1h-1zM68 377h1v1h-1zM548 377h1v1h-1zM68 378h1v1h-1zM548 378h1v1h-1zM68 379h1v1h-1zM548 379h1v1h-1zM68 380h1v1h-1zM548 380h1v1h-1zM68 381h1v1h-1zM548 381h1v1h-1zM68 382h1v1h-1zM548 382h1v1h-1zM68 383h1v1h-1zM548 383h1v1h-1zM68 384h1v1h-1zM548 384h1v1h-1zM68 385h1v1h-1zM548 385h1v1h-1zM68 386h1v1h-1zM548 386h1v1h-1zM68 387h1v1h-1zM548 387h1v1h-1zM68 388h1v1h-1zM548 388h1v1h-1zM68 389h1v1h-1zM548 389h1v1h-1zM68 390h1v1h-1zM548 390h1v1h-1zM68 391h1v1h-1zM548 391h1v1h-1zM68 392h1v1h-1zM548 392h1v1h-1zM68 393h1v1h-1zM548 393h1v1h-1zM68 394h1v1h-1zM548 394h1v1h-1zM68 395h1v1h-1zM548 395h1v1h-1zM68 396h1v1h-1zM548 396h1v1h-1zM68 397h1v1h-1zM548 397h1v1h-1zM68 398h1v1h-1zM548 398h1v1h-1zM68 399h1v1h-1zM548 399h1v1h-1zM68 400h1v1h-1zM548 400h1v1h-1zM68 401h1v1h-1zM548 401h1v1h-1zM68 402h1v1h-1zM548 402h1v1h-1zM68 403h1v1h-1zM548 403h1v1h-1zM68 404h1v1h-1zM548 404h1v1h-1zM68 405h1v1h-1zM548 405h1v1h-1zM68 406h1v1h-1zM548 406h1v1h-1zM68 407h1v1h-1zM548 407h1v1h-1zM68 408h1v1h-1zM548 408h1v1h-1zM68 409h1v1h-1zM548 409h1v1h-1zM68 410h1v1h-1zM548 410h1v1h-1zM68 411h1v1h-1zM548 411h1v1h-1zM68 412h1v1h-1zM548 412h1v1h-1zM68 413h1v1h-1zM548 413h1v1h-1zM68 414h1v1h-1zM548 414h1v1h-1zM68 415h1v1h-1zM548 415h1v1h-1zM68 416h1v1h-1zM548 416h1v1h-1zM68 417h1v1h-1zM548 417h1v1h-1zM68 418h1v1h-1zM548 418h1v1h-1zM68 419h1v1h-1zM548 419h1v1h-1zM68 420h1v1h-1zM548 420h1v1h-1zM68 421h1v1h-1zM548 421h1v1h-1zM68 422h1v1h-1zM548 422h1v1h-1zM68 423h1v1h-1zM548 423h1v1h-1zM68 424h1v1h-1zM548 424h1v1h-1zM68 425h1v1h-1zM548 425h1v1h-1zM68 426h1v1h-1zM548 426h1v1h-1zM68 427h481v1h-481z" fill="#000000"/>
</svg></body></html>
